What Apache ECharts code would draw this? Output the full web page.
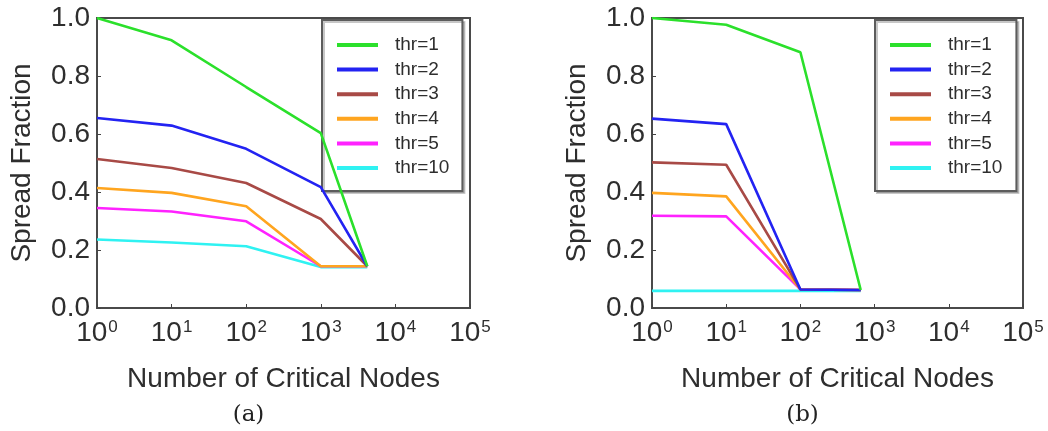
<!DOCTYPE html>
<html>
<head>
<meta charset="utf-8">
<script src="https://cdn.jsdelivr.net/npm/echarts@6/dist/echarts.min.js"></script>
<style>
  html, body { margin: 0; padding: 0; background: #fff; }
  #chart { width: 1048px; height: 431px; }
</style>
</head>
<body>
<div id="chart"></div>
<script>
// Number of critical nodes (x) for each panel
const nodesA = [1, 10, 100, 1000, 4200];
const nodesB = [1, 10, 100, 650];

// Spread fraction per threshold, panel (a)
const thr1A  = [1.000, 0.923, 0.762, 0.603, 0.144];
const thr2A  = [0.655, 0.629, 0.549, 0.417, 0.144];
const thr3A  = [0.514, 0.483, 0.431, 0.307, 0.144];
const thr4A  = [0.414, 0.397, 0.351, 0.144, 0.144];
const thr5A  = [0.345, 0.333, 0.299, 0.144, 0.144];
const thr10A = [0.236, 0.226, 0.213, 0.141, 0.141];

// Spread fraction per threshold, panel (b)
const thr1B  = [1.000, 0.977, 0.882, 0.062];
const thr2B  = [0.653, 0.634, 0.064, 0.062];
const thr3B  = [0.502, 0.494, 0.064, 0.062];
const thr4B  = [0.397, 0.385, 0.064, 0.062];
const thr5B  = [0.318, 0.316, 0.064, 0.062];
const thr10B = [0.059, 0.059, 0.059, 0.059];

const seriesNames = ['thr=1', 'thr=2', 'thr=3', 'thr=4', 'thr=5', 'thr=10'];
const seriesColors = ['#2be02b', '#2323f2', '#a84a46', '#ffa51f', '#ff22ff', '#2ff2f2'];
const yTicks = [0, 0.2, 0.4, 0.6, 0.8, 1.0];
const panelCaptions = ['(a)', '(b)'];

const panelA = [thr1A, thr2A, thr3A, thr4A, thr5A, thr10A];
const panelB = [thr1B, thr2B, thr3B, thr4B, thr5B, thr10B];

const FONT = '"Liberation Sans", Arial, Helvetica, sans-serif';
const TEXT = '#2e2e2e';

const grids = [
  { left: 97, top: 18, width: 373, height: 290 },
  { left: 652, top: 18, width: 371, height: 290 }
];

function xAxisFor(i) {
  return {
    type: 'log', logBase: 10, min: 1, max: 100000, gridIndex: i,
    name: 'Number of Critical Nodes', nameLocation: 'middle', nameGap: 57,
    nameTextStyle: { fontFamily: FONT, fontSize: 28, color: TEXT },
    axisLine: { show: false },
    axisTick: { show: true, inside: true, length: 4, lineStyle: { color: '#444', width: 1 } },
    minorTick: { show: false },
    splitLine: { show: false },
    axisLabel: {
      margin: 11,
      formatter: v => '{b|10}{s|' + Math.round(Math.log10(v)) + '}',
      rich: {
        b: { fontFamily: FONT, fontSize: 28, lineHeight: 28, color: TEXT, verticalAlign: 'bottom' },
        s: { fontFamily: FONT, fontSize: 17, lineHeight: 17, color: TEXT, verticalAlign: 'top', padding: [0, 0, 0, 1] }
      }
    }
  };
}

function yAxisFor(i) {
  return {
    type: 'value', min: yTicks[0], max: yTicks[yTicks.length - 1], interval: 0.2, gridIndex: i,
    name: 'Spread Fraction', nameLocation: 'middle', nameGap: 61,
    nameTextStyle: { fontFamily: FONT, fontSize: 28, color: TEXT },
    axisLine: { show: false },
    axisTick: { show: true, inside: true, length: 4, lineStyle: { color: '#444', width: 1 } },
    splitLine: { show: false },
    axisLabel: {
      margin: 7, fontFamily: FONT, fontSize: 28, color: TEXT,
      formatter: v => v.toFixed(1)
    }
  };
}

function legendFor(i, left, namePad) {
  return {
    orient: 'vertical', left: left, top: 20,
    padding: [15, namePad, 13, 15],
    itemGap: 4.6, itemWidth: 41, itemHeight: 4,
    icon: 'rect',
    backgroundColor: '#fff',
    borderColor: '#5c5c5c', borderWidth: 2, borderRadius: 0,
    shadowColor: 'rgba(0,0,0,0.22)', shadowOffsetX: 2, shadowOffsetY: 2, shadowBlur: 0,
    data: seriesNames.map(n => ({ name: n })),
    textStyle: { fontFamily: FONT, fontSize: 19, lineHeight: 20, color: TEXT, padding: [0, 0, 0, 12] },
    selectedMode: false
  };
}

function buildSeries(panel, xs, gi) {
  return panel.map((vals, k) => ({
    name: seriesNames[k], type: 'line', xAxisIndex: gi, yAxisIndex: gi,
    data: xs.map((x, j) => [x, vals[j]]),
    showSymbol: false, symbol: 'none', animation: false,
    lineStyle: { color: seriesColors[k], width: 2.6 },
    itemStyle: { color: seriesColors[k] },
    z: 10 - k
  }));
}

const chart = echarts.init(document.getElementById('chart'), null, { renderer: 'canvas' });
chart.setOption({
  animation: false,
  backgroundColor: '#fff',
  grid: grids.map(g => Object.assign({ show: true, borderColor: '#4a4a4a', borderWidth: 2, backgroundColor: 'transparent' }, g)),
  xAxis: [xAxisFor(0), xAxisFor(1)],
  yAxis: [yAxisFor(0), yAxisFor(1)],
  legend: [legendFor(0, 322, 13), legendFor(1, 875, 14)],
  series: buildSeries(panelA, nodesA, 0).concat(buildSeries(panelB, nodesB, 1)),
  graphic: panelCaptions.map((c, i) => ({
    type: 'text',
    x: grids[i].left + grids[i].width / 2 - 35,
    y: 415,
    style: {
      text: c, fontFamily: '"DejaVu Serif", "Liberation Serif", serif', fontSize: 23,
      fill: '#222', align: 'center', verticalAlign: 'middle'
    }
  }))
});
</script>
</body>
</html>
